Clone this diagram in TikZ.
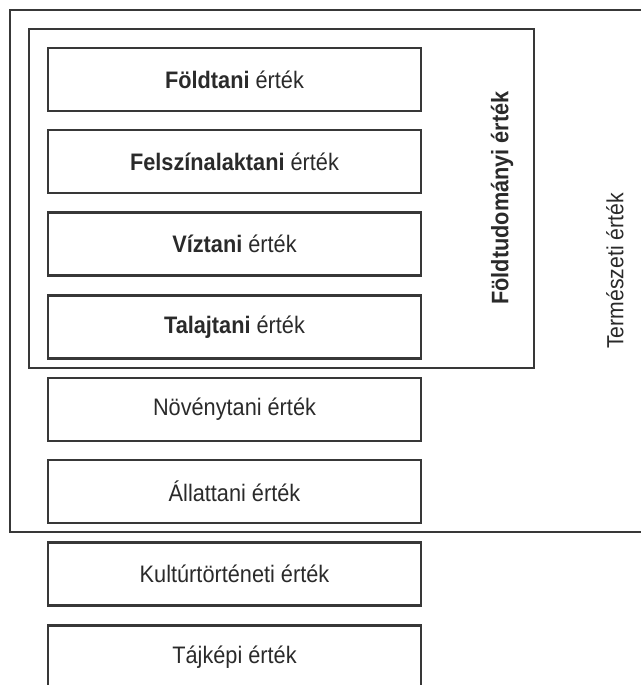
\documentclass[tikz,border=0pt]{standalone}
\usepackage{fontspec}
\setmainfont[FakeStretch=0.91]{Liberation Sans}
\definecolor{ln}{HTML}{383838}
\definecolor{tx}{HTML}{2A2A2A}
\begin{document}
\begin{tikzpicture}[x=0.75pt,y=-0.75pt,
  valbox/.style={draw=ln,line width=1.6pt,minimum width=279.75pt,minimum height=47.25pt,inner sep=0pt,text=tx,font=\fontsize{17.9pt}{20pt}\selectfont},
  frame/.style={draw=ln,line width=1.1pt},
  sidelabel/.style={rotate=90,text=tx,font=\fontsize{17.5pt}{20pt}\selectfont}]
\useasboundingbox (0,0) rectangle (641,685);
\clip (0,0) rectangle (641,685);
\draw[frame,line width=1.1pt] (10,10) rectangle (660,532);
\draw[frame,line width=1.4pt] (29,29) rectangle (534,368);
\node[valbox] (f1) at (234.5,79.5) {\textbf{Földtani} érték};
\node[valbox] (f2) at (234.5,161.5) {\textbf{Felszínalaktani} érték};
\node[valbox] (f3) at (234.5,244) {\textbf{Víztani} érték};
\node[valbox] (f4) at (234.5,327) {\textbf{Talajtani} érték};
\node[valbox] (n1) at (234.5,409.5) {Növénytani érték};
\node[valbox] (n2) at (234.5,491.5) {Állattani érték};
\node[valbox] (k1) at (234.5,574) {Kultúrtörténeti érték};
\node[valbox] (k2) at (234.5,657) {Tájképi érték};
\node[sidelabel,font=\bfseries\fontsize{17.9pt}{20pt}\selectfont] (fd) at (502,198) {Földtudományi érték};
\node[sidelabel] (tz) at (615,271) {Természeti érték};
\end{tikzpicture}
\end{document}
